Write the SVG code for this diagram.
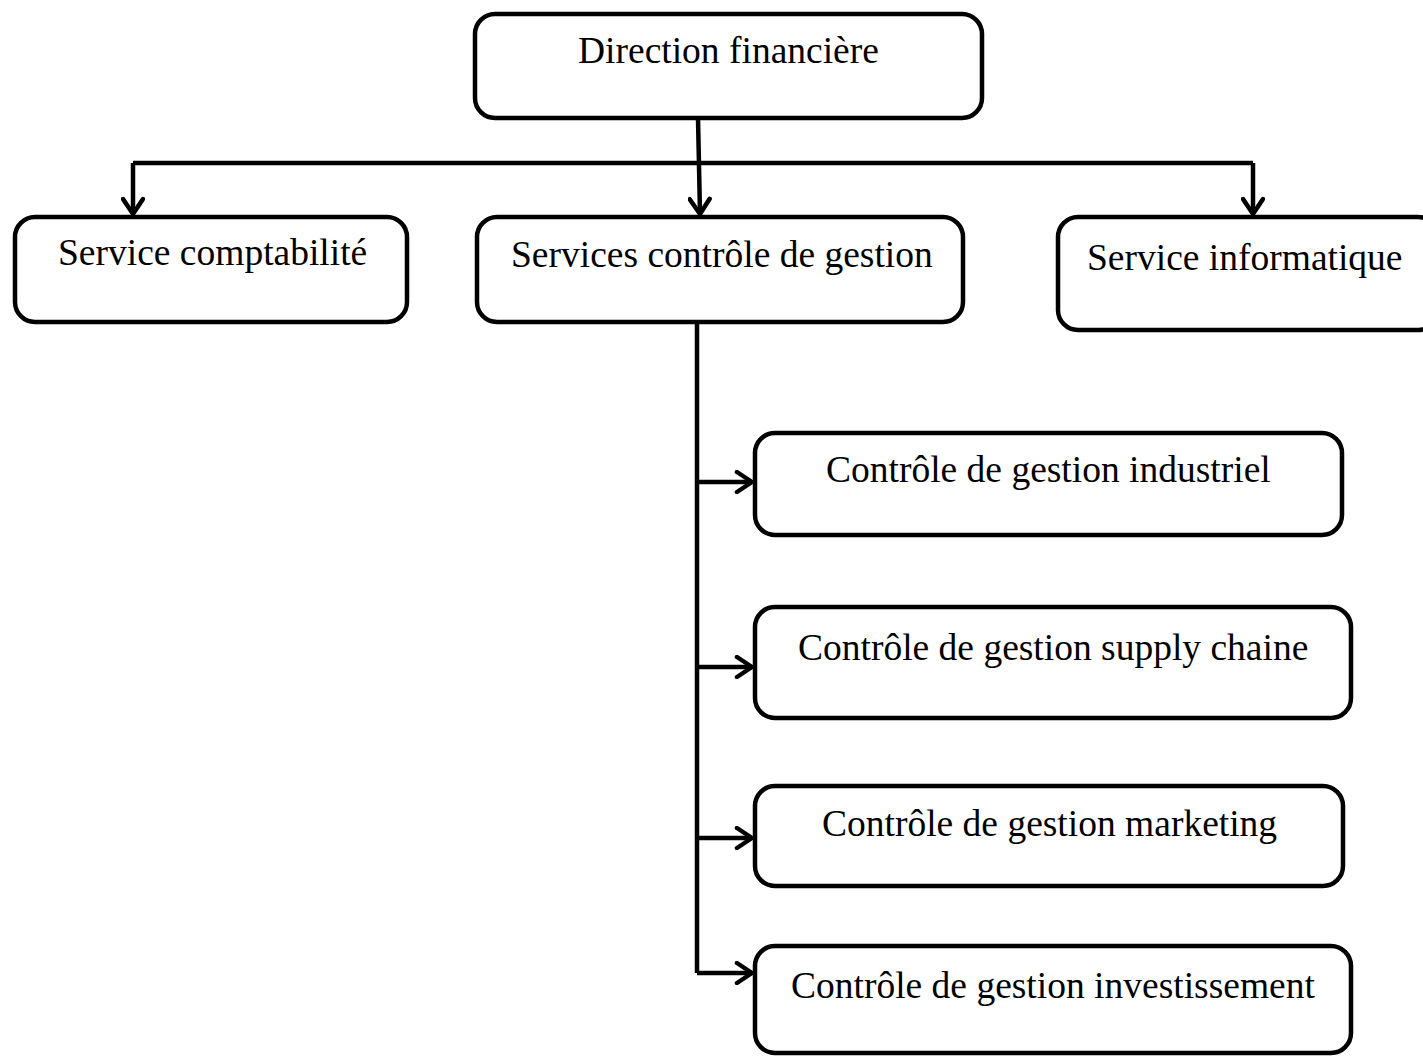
<svg xmlns="http://www.w3.org/2000/svg" width="1423" height="1057" viewBox="0 0 1423 1057">
<style>
.box{fill:#fff;stroke:#000;stroke-width:4.5}
.lbl{font-family:"Liberation Serif","Times New Roman",serif;font-size:37.5px;fill:#000}
.con{fill:none;stroke:#000;stroke-width:4.5}
</style>
<defs>
<marker id="arr" viewBox="0 0 24 24" refX="21" refY="12" markerWidth="24" markerHeight="24" markerUnits="userSpaceOnUse" orient="auto">
<path d="M6,2 L21,12 L6,22" fill="none" stroke="#000" stroke-width="4.5" stroke-linecap="round" stroke-linejoin="round"/>
</marker>
</defs>
<rect width="1423" height="1057" fill="#fff"/>
<g id="connectors">
<path class="con" d="M698,118 L700,214" marker-end="url(#arr)"/>
<path class="con" d="M133,163 L1253,163"/>
<path class="con" d="M133,163 L133,214" marker-end="url(#arr)"/>
<path class="con" d="M1253,163 L1253,214" marker-end="url(#arr)"/>
<path class="con" d="M697,322 L697,973"/>
<path class="con" d="M697,482 L752,482" marker-end="url(#arr)"/>
<path class="con" d="M697,667 L752,667" marker-end="url(#arr)"/>
<path class="con" d="M697,838 L752,838" marker-end="url(#arr)"/>
<path class="con" d="M697,973 L752,973" marker-end="url(#arr)"/>
</g>
<g id="n_direction">
<rect class="box" x="475" y="14" width="507" height="104" rx="20"/>
<text class="lbl" x="578" y="63">Direction financière</text>
</g>
<g id="n_compta">
<rect class="box" x="15" y="217" width="392" height="105" rx="20"/>
<text class="lbl" x="58" y="265">Service comptabilité</text>
</g>
<g id="n_cdg">
<rect class="box" x="477" y="217" width="486" height="105" rx="20"/>
<text class="lbl" x="511" y="267">Services contrôle de gestion</text>
</g>
<g id="n_info">
<rect class="box" x="1058" y="217" width="380" height="113" rx="20"/>
<text class="lbl" x="1087" y="270">Service informatique</text>
</g>
<g id="n_industriel">
<rect class="box" x="755" y="433" width="587" height="102" rx="20"/>
<text class="lbl" x="826" y="482">Contrôle de gestion industriel</text>
</g>
<g id="n_supply">
<rect class="box" x="755" y="607" width="596" height="111" rx="20"/>
<text class="lbl" x="798" y="660">Contrôle de gestion supply chaine</text>
</g>
<g id="n_marketing">
<rect class="box" x="755" y="786" width="588" height="100" rx="20"/>
<text class="lbl" x="822" y="836">Contrôle de gestion marketing</text>
</g>
<g id="n_invest">
<rect class="box" x="755" y="946" width="596" height="107" rx="20"/>
<text class="lbl" x="791" y="998">Contrôle de gestion investissement</text>
</g>
</svg>
